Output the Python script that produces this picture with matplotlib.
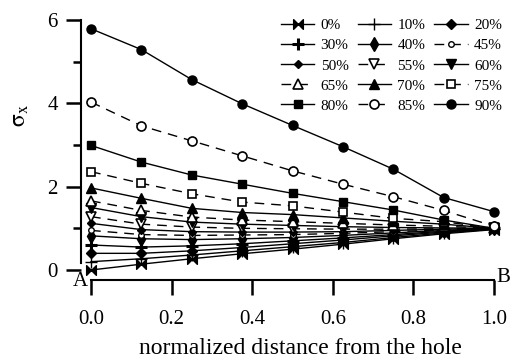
import matplotlib
matplotlib.use("Agg")
import matplotlib.pyplot as plt
from matplotlib.path import Path

plt.rcParams["font.family"] = ["Liberation Serif", "DejaVu Serif"]
plt.rcParams["mathtext.fontset"] = "stix"

# normalized distance from the hole (A -> B)
x = [0.0, 0.125, 0.25, 0.375, 0.5, 0.625, 0.75, 0.875, 1.0]

labels = ["0%", "10%", "20%", "30%", "40%", "45%", "50%", "55%", "60%",
          "65%", "70%", "75%", "80%", "85%", "90%"]

s0 = [0.00, 0.14, 0.27, 0.39, 0.50, 0.62, 0.75, 0.87, 0.97]
s10 = [0.20, 0.27, 0.36, 0.46, 0.56, 0.66, 0.78, 0.89, 0.98]
s20 = [0.40, 0.40, 0.46, 0.54, 0.63, 0.72, 0.82, 0.91, 0.99]
s30 = [0.60, 0.55, 0.58, 0.63, 0.70, 0.77, 0.85, 0.93, 1.00]
s40 = [0.82, 0.75, 0.73, 0.75, 0.78, 0.83, 0.89, 0.95, 1.00]
s45 = [0.95, 0.85, 0.83, 0.84, 0.85, 0.88, 0.92, 0.96, 1.00]
s50 = [1.12, 0.97, 0.92, 0.91, 0.91, 0.92, 0.95, 0.98, 1.00]
s55 = [1.28, 1.10, 1.03, 1.00, 0.99, 0.98, 0.98, 0.99, 1.00]
s60 = [1.50, 1.28, 1.15, 1.10, 1.07, 1.04, 1.02, 1.01, 1.00]
s65 = [1.66, 1.43, 1.27, 1.20, 1.16, 1.12, 1.08, 1.05, 1.00]
s70 = [1.97, 1.72, 1.48, 1.38, 1.33, 1.25, 1.17, 1.10, 1.00]
s75 = [2.36, 2.08, 1.83, 1.63, 1.54, 1.39, 1.24, 1.16, 1.00]
s80 = [2.99, 2.59, 2.28, 2.06, 1.84, 1.64, 1.44, 1.20, 1.00]
s85 = [4.03, 3.46, 3.10, 2.74, 2.38, 2.06, 1.76, 1.43, 1.05]
s90 = [5.79, 5.29, 4.57, 3.99, 3.47, 2.96, 2.42, 1.74, 1.40]

series = [s0, s10, s20, s30, s40, s45, s50, s55, s60, s65, s70, s75, s80, s85, s90]

bowtie = Path([(-1, -1), (1, 1), (1, -1), (-1, 1), (-1, -1)],
              [Path.MOVETO, Path.LINETO, Path.LINETO, Path.LINETO, Path.CLOSEPOLY])

# (marker, size, filled, dashed, marker edge width)
styles = [
    (bowtie, 7, True, False, 1.0),
    ("+", 9, True, False, 1.0),
    ("D", 5, True, False, 1.0),
    ("+", 9, True, False, 2.2),
    ("d", 7, True, False, 1.0),
    ("o", 4, False, True, 1.0),
    ("D", 4, True, False, 1.0),
    ("v", 6.5, False, True, 1.2),
    ("v", 6.5, True, False, 1.0),
    ("^", 6.5, False, True, 1.2),
    ("^", 6.5, True, False, 1.0),
    ("s", 6, False, True, 1.2),
    ("s", 6, True, False, 1.0),
    ("o", 6.5, False, True, 1.2),
    ("o", 6.5, True, False, 1.0),
]

fig = plt.figure(figsize=(5.12, 3.58), dpi=100)
ax = fig.add_axes([91 / 512, 88 / 358, 403 / 512, 250 / 358])

handles = []
for ys, lab, (mk, ms, filled, dashed, mew) in zip(series, labels, styles):
    (ln,) = ax.plot(x, ys, color="black", lw=1.0, marker=mk, markersize=ms,
                    markerfacecolor="black" if filled else "white",
                    markeredgecolor="black", markeredgewidth=mew,
                    linestyle=(0, (7, 5)) if dashed else "-",
                    clip_on=False, label=lab)
    handles.append(ln)

ax.set_xlim(0, 1)
ax.set_ylim(0, 6)
for side in ("top", "right"):
    ax.spines[side].set_visible(False)
ax.spines["left"].set_position(("outward", 7))
ax.spines["left"].set_bounds(0.17, 6)
ax.spines["bottom"].set_position(("outward", 7.5))
ax.spines["bottom"].set_linewidth(1.5)
ax.spines["left"].set_linewidth(1.5)

ax.set_xticks([0.0, 0.2, 0.4, 0.6, 0.8, 1.0])
ax.set_xticklabels(["0.0", "0.2", "0.4", "0.6", "0.8", "1.0"])
ax.set_yticks([0, 2, 4, 6])
ax.set_yticks([1, 3, 5], minor=True)
ax.tick_params(axis="both", which="major", direction="out", length=11, width=1.8,
               labelsize=15)
ax.tick_params(axis="x", which="major", pad=10)
ax.tick_params(axis="y", which="major", pad=6)
ax.tick_params(axis="y", which="minor", direction="out", length=6, width=1.8)

ax.set_xlabel("normalized distance from the hole", fontsize=17, labelpad=0)
ax.xaxis.set_label_coords(0.52, -0.27)
ax.set_ylabel(r"$\mathrm{\sigma}_{\mathrm{x}}$", fontsize=17)
ax.yaxis.set_label_coords(-0.15, 0.62)

# row-wise legend order (matplotlib fills columns first)
order = [0, 3, 6, 9, 12, 1, 4, 7, 10, 13, 2, 5, 8, 11, 14]
ax.legend([handles[i] for i in order], [labels[i] for i in order],
          ncol=3, frameon=False, fontsize=11, loc="upper right",
          bbox_to_anchor=(1.035, 1.03), handlelength=2.2, handletextpad=0.4,
          columnspacing=0.6, labelspacing=0.42, borderaxespad=0.0)

fig.text(80 / 512, 1 - 281 / 358, "A", fontsize=15, ha="center", va="center")
fig.text(503 / 512, 1 - 278 / 358, "B", fontsize=15, ha="center", va="center")

fig.savefig("out.png", dpi=100)
